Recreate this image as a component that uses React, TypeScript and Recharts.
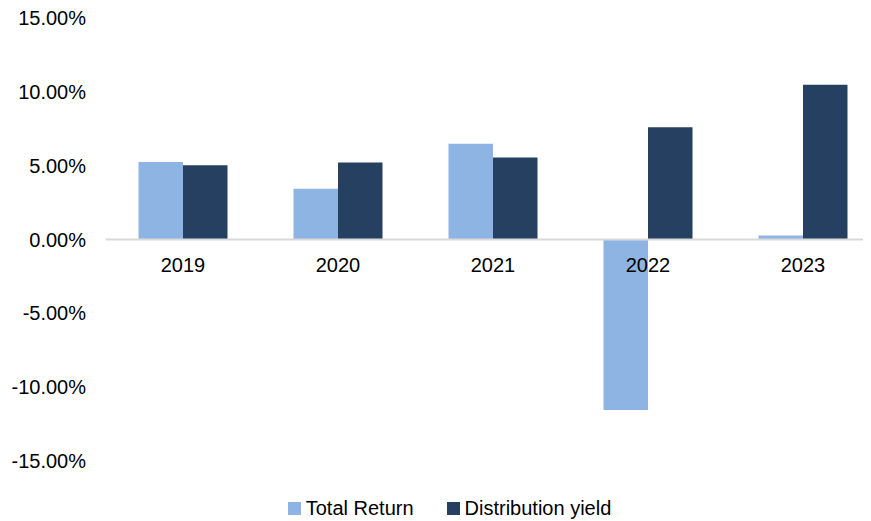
import React from 'react';
import { ComposedChart, Bar, Line, XAxis, YAxis, ReferenceLine, LabelList, Legend } from 'recharts';

const years = ['2019', '2020', '2021', '2022', '2023'];
const totalReturn = [5.25, 3.43, 6.48, -11.55, 0.27];
const distributionYield = [5.02, 5.22, 5.55, 7.6, 10.48];
const yTicks = [-15, -10, -5, 0, 5, 10, 15];

const seriesNames = ['Total Return', 'Distribution yield'];
const colors = ['#8EB4E3', '#254061'];

const data = years.map((year, i) => ({
  year,
  totalReturn: totalReturn[i],
  distributionYield: distributionYield[i],
}));

const FONT = '"Liberation Sans", Arial, sans-serif';

const CategoryLabel = (props: any) => {
  const { x, y, value } = props;
  return (
    <text x={x} y={y + 25} dy="0.355em" textAnchor="middle" fontSize={20} fill="#000" fontFamily={FONT}>
      {value}
    </text>
  );
};

const LegendContent = () => (
  <div
    style={{
      display: 'flex',
      justifyContent: 'center',
      alignItems: 'center',
      fontFamily: FONT,
      fontSize: 20,
      color: '#000',
      paddingLeft: 20,
      lineHeight: '23px',
    }}
  >
    {seriesNames.map((name, i) => (
      <div key={name} style={{ display: 'flex', alignItems: 'center', marginLeft: i === 0 ? 0 : 33 }}>
        <span style={{ display: 'inline-block', width: 13, height: 13, background: colors[i], marginRight: 5 }} />
        <span>{name}</span>
      </div>
    ))}
  </div>
);

export default function App() {
  return (
    <ComposedChart
      width={863}
      height={513}
      data={data}
      margin={{ top: 10, right: -9.5, bottom: 37, left: 0 }}
      barGap={0}
      style={{ fontFamily: FONT }}
    >
      <XAxis dataKey="year" hide />
      <YAxis
        width={97.5}
        domain={[-15, 15]}
        ticks={yTicks}
        tickFormatter={(v: number) => `${v.toFixed(2)}%`}
        axisLine={false}
        tickLine={false}
        tickSize={0}
        tickMargin={19.5}
        tick={{ fontSize: 20, fill: '#000', fontFamily: FONT }}
        interval={0}
      />
      <ReferenceLine y={0} stroke="#D9D9D9" strokeWidth={2} />
      <Bar dataKey="totalReturn" name={seriesNames[0]} fill={colors[0]} barSize={44.5} isAnimationActive={false} />
      <Bar dataKey="distributionYield" name={seriesNames[1]} fill={colors[1]} barSize={44.5} isAnimationActive={false} />
      <Line
        dataKey={() => 0}
        stroke="none"
        dot={false}
        activeDot={false}
        legendType="none"
        isAnimationActive={false}
      >
        <LabelList dataKey="year" content={<CategoryLabel />} />
      </Line>
      <Legend
        content={<LegendContent />}
        verticalAlign="bottom"
        wrapperStyle={{ left: 0, width: 863, top: 489 }}
      />
    </ComposedChart>
  );
}
